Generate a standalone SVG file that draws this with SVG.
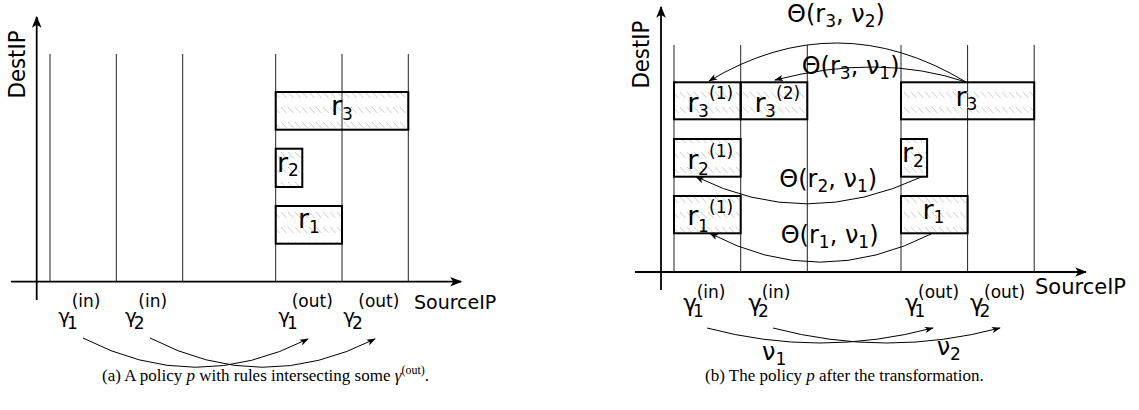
<svg xmlns="http://www.w3.org/2000/svg" width="1139" height="410" viewBox="0 0 1139 410">
<style>
.ax{stroke:#000;stroke-width:1.8;fill:none}
.grid{stroke:#222;stroke-width:1;fill:none}
.box{fill:url(#hatch);stroke:#000;stroke-width:2}
.arc{fill:none;stroke:#000;stroke-width:1;marker-end:url(#ah)}
text{font-family:"DejaVu Sans",sans-serif;fill:#000}
.cap{font-family:"Liberation Serif","Times New Roman",serif;font-size:17px}
.sub{font-size:17px}
.sup{font-size:17px}
</style>
<defs>
<pattern id="hatch" patternUnits="userSpaceOnUse" width="7" height="15">
<path d="M1,2 L6.5,8" stroke="#bdbdbd" stroke-width="0.8"/>
</pattern>
<marker id="ah" viewBox="0 0 10 10" refX="9" refY="5" markerWidth="9" markerHeight="9" markerUnits="userSpaceOnUse" orient="auto">
<path d="M0,1.5 L10,5 L0,8.5 L2.5,5 z" fill="#000"/>
</marker>
<marker id="axh" viewBox="0 0 10 10" refX="9" refY="5" markerWidth="12" markerHeight="12" markerUnits="userSpaceOnUse" orient="auto">
<path d="M0,1 L10,5 L0,9 L2.5,5 z" fill="#000"/>
</marker>
</defs>

<!-- Left panel -->
<g id="left-axes">
<line class="ax" x1="36.7" y1="300" x2="36.7" y2="17" marker-end="url(#axh)"/>
<line class="ax" x1="11" y1="281.7" x2="461" y2="281.7" marker-end="url(#axh)"/>
<line class="grid" x1="50" y1="54" x2="50" y2="281.7"/>
<line class="grid" x1="116.3" y1="54" x2="116.3" y2="281.7"/>
<line class="grid" x1="182.7" y1="54" x2="182.7" y2="281.7"/>
<line class="grid" x1="275.7" y1="54" x2="275.7" y2="281.7"/>
<line class="grid" x1="342" y1="54" x2="342" y2="281.7"/>
<line class="grid" x1="408.3" y1="54" x2="408.3" y2="281.7"/>
<text transform="translate(25,98.5) rotate(-90)" font-size="23" textLength="68" lengthAdjust="spacingAndGlyphs">DestIP</text>
<text x="414" y="309" font-size="19">SourceIP</text>
</g>
<g id="left-r3"><rect class="box" x="275.7" y="92" width="132.6" height="37.7"/>
<text x="331" y="115" font-size="27">r<tspan class="sub" dy="4.5">3</tspan></text></g>
<g id="left-r2"><rect class="box" x="275.7" y="148.7" width="26.6" height="38.3"/>
<text x="277" y="171.7" font-size="27">r<tspan class="sub" dy="4.5">2</tspan></text></g>
<g id="left-r1"><rect class="box" x="275.7" y="206" width="66.3" height="37.7"/>
<text x="298" y="228.3" font-size="27">r<tspan class="sub" dy="4.5">1</tspan></text></g>

<g id="left-gamma1-in"><text font-size="20"><tspan x="58.3" y="323">γ</tspan><tspan class="sub" x="67" y="328.5">1</tspan><tspan class="sup" x="71.7" y="306.5">(in)</tspan></text></g>
<g id="left-gamma2-in"><text font-size="20"><tspan x="125" y="323">γ</tspan><tspan class="sub" x="133.7" y="328.5">2</tspan><tspan class="sup" x="138.3" y="306.5">(in)</tspan></text></g>
<g id="left-gamma1-out"><text font-size="20"><tspan x="278.3" y="323">γ</tspan><tspan class="sub" x="287" y="328.5">1</tspan><tspan class="sup" x="291.7" y="306.5">(out)</tspan></text></g>
<g id="left-gamma2-out"><text font-size="20"><tspan x="343.3" y="323">γ</tspan><tspan class="sub" x="352" y="328.5">2</tspan><tspan class="sup" x="358.3" y="306.5">(out)</tspan></text></g>

<text class="cap" x="102" y="381">(a) A policy <tspan font-style="italic">p</tspan> with rules intersecting some <tspan font-style="italic">γ</tspan><tspan font-size="12" dy="-7">(out)</tspan><tspan dy="7">.</tspan></text>

<!-- Right panel -->
<g id="right-axes">
<line class="ax" x1="661" y1="290" x2="661" y2="7" marker-end="url(#axh)"/>
<line class="ax" x1="635" y1="272" x2="1086" y2="272" marker-end="url(#axh)"/>
<line class="grid" x1="674" y1="45" x2="674" y2="272"/>
<line class="grid" x1="740.7" y1="45" x2="740.7" y2="272"/>
<line class="grid" x1="807.3" y1="45" x2="807.3" y2="272"/>
<line class="grid" x1="901" y1="45" x2="901" y2="272"/>
<line class="grid" x1="967.6" y1="45" x2="967.6" y2="272"/>
<line class="grid" x1="1034.2" y1="45" x2="1034.2" y2="272"/>
<text transform="translate(649.3,88.6) rotate(-90)" font-size="23" textLength="68" lengthAdjust="spacingAndGlyphs">DestIP</text>
<text x="1035" y="294" font-size="21">SourceIP</text>
</g>
<g id="right-r3-1"><rect class="box" x="674" y="82.3" width="66.7" height="37"/>
<text font-size="27"><tspan x="687.3" y="111.7">r</tspan><tspan class="sub" x="698" y="116.7">3</tspan><tspan class="sup" x="709" y="99">(1)</tspan></text></g>
<g id="right-r3-2"><rect class="box" x="740.7" y="82.3" width="66.6" height="37"/>
<text font-size="27"><tspan x="754.5" y="111.7">r</tspan><tspan class="sub" x="765" y="116.7">3</tspan><tspan class="sup" x="776" y="99">(2)</tspan></text></g>
<g id="right-r3"><rect class="box" x="901" y="82.3" width="133.2" height="37"/>
<text x="955.5" y="105.5" font-size="27">r<tspan class="sub" dy="4.5">3</tspan></text></g>
<g id="right-r2-1"><rect class="box" x="674" y="139" width="66.7" height="37.7"/>
<text font-size="27"><tspan x="687.3" y="169.3">r</tspan><tspan class="sub" x="698" y="175">2</tspan><tspan class="sup" x="709" y="156.5">(1)</tspan></text></g>
<g id="right-r2"><rect class="box" x="901" y="139" width="26.1" height="37.7"/>
<text x="902" y="162" font-size="27">r<tspan class="sub" dy="4.5">2</tspan></text></g>
<g id="right-r1-1"><rect class="box" x="674" y="196" width="66.7" height="37.3"/>
<text font-size="27"><tspan x="687.3" y="225">r</tspan><tspan class="sub" x="698" y="231.7">1</tspan><tspan class="sup" x="709" y="213">(1)</tspan></text></g>
<g id="right-r1"><rect class="box" x="901" y="196" width="66.6" height="37.3"/>
<text x="922.5" y="218.6" font-size="27">r<tspan class="sub" dy="4.5">1</tspan></text></g>

<g id="right-gamma1-in"><text font-size="23"><tspan x="683.3" y="310.6">γ</tspan><tspan class="sub" x="693" y="317">1</tspan><tspan class="sup" x="696.7" y="297.5">(in)</tspan></text></g>
<g id="right-gamma2-in"><text font-size="23"><tspan x="748.3" y="310.6">γ</tspan><tspan class="sub" x="758" y="317">2</tspan><tspan class="sup" x="761.7" y="297.5">(in)</tspan></text></g>
<g id="right-gamma1-out"><text font-size="23"><tspan x="905" y="310.6">γ</tspan><tspan class="sub" x="914.5" y="317">1</tspan><tspan class="sup" x="918" y="297.5">(out)</tspan></text></g>
<g id="right-gamma2-out"><text font-size="23"><tspan x="970" y="310.6">γ</tspan><tspan class="sub" x="979.5" y="317">2</tspan><tspan class="sup" x="984" y="297.5">(out)</tspan></text></g>

<g id="theta-labels" font-size="24">
<text x="787" y="21.7">Θ(r<tspan class="sub" dy="5">3</tspan><tspan dy="-5">, ν</tspan><tspan class="sub" dy="5">2</tspan><tspan dy="-5">)</tspan></text>
<text x="801.7" y="74">Θ(r<tspan class="sub" dy="5">3</tspan><tspan dy="-5">, ν</tspan><tspan class="sub" dy="5">1</tspan><tspan dy="-5">)</tspan></text>
<text x="779.3" y="186.7">Θ(r<tspan class="sub" dy="5">2</tspan><tspan dy="-5">, ν</tspan><tspan class="sub" dy="5">1</tspan><tspan dy="-5">)</tspan></text>
<text x="780.7" y="243.3">Θ(r<tspan class="sub" dy="5">1</tspan><tspan dy="-5">, ν</tspan><tspan class="sub" dy="5">1</tspan><tspan dy="-5">)</tspan></text>
</g>
<g id="nu-labels" font-size="24">
<text x="762" y="360">ν<tspan class="sub" dy="5">1</tspan></text>
<text x="936.7" y="355">ν<tspan class="sub" dy="5">2</tspan></text>
</g>

<text class="cap" x="705" y="381">(b) The policy <tspan font-style="italic">p</tspan> after the transformation.</text>

<g id="connectors">
<path class="arc" d="M83,338 Q195,396 308,339"/>
<path class="arc" d="M150,338 Q262,396 375,339"/>
<path class="arc" d="M707,328 Q820,358 933,328"/>
<path class="arc" d="M773,328 Q887,358 1000,328"/>
<path class="arc" d="M966,82 Q837,4.5 709,81"/>
<path class="arc" d="M966,82 Q880,53 775,80"/>
<path class="arc" d="M922,176.7 Q805,231 696,176.7"/>
<path class="arc" d="M932.6,233.3 Q819,291 710,233.3"/>
</g>
</svg>
